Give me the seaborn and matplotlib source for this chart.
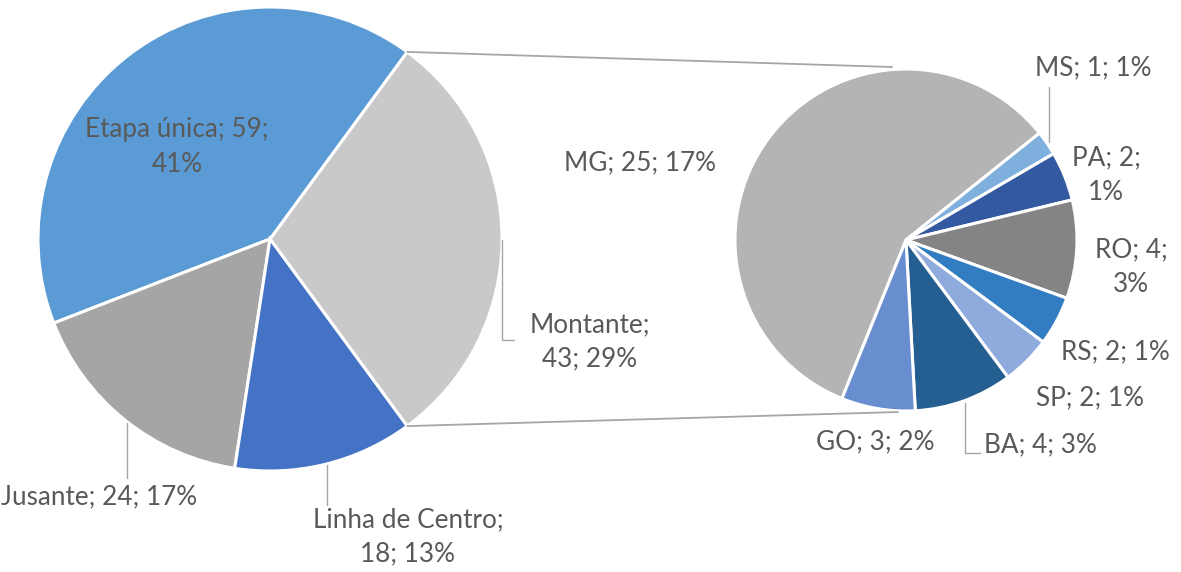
import matplotlib
matplotlib.use("Agg")
import matplotlib.pyplot as plt
import seaborn as sns
import numpy as np

# dados
etapas = ["Montante", "Etapa única", "Jusante", "Linha de Centro"]
etapa_vals = [43, 59, 24, 18]
etapa_pct = [29, 41, 17, 13]
estados = ["MG", "MS", "PA", "RO", "RS", "SP", "BA", "GO"]
estado_vals = [25, 1, 2, 4, 2, 2, 4, 3]
estado_pct = [17, 1, 1, 3, 1, 1, 3, 2]

cores_etapa = ["#C9C9C9", "#5B9BD5", "#A5A5A5", "#4472C4"]
cores_estado = ["#B4B4B4", "#7FB0DD", "#335AA1", "#848484",
                "#327DC2", "#8FAADC", "#255E91", "#698ED0"]

sns.set_theme(style="white")
plt.rcParams["font.family"] = ["Lato", "DejaVu Sans"]

W, H = 1181, 572
fig = plt.figure(figsize=(W / 100, H / 100), dpi=100)
ax = fig.add_axes([0, 0, 1, 1])

total = sum(etapa_vals)
sub_total = etapa_vals[0]

# pizza principal: Montante centrada a direita
c1, r1 = (270, H - 239), 232
ang_m = 360 * sub_total / total / 2
ax.pie(etapa_vals, colors=cores_etapa, startangle=-ang_m, counterclock=True,
       center=c1, radius=r1, frame=True,
       wedgeprops=dict(edgecolor="white", linewidth=2.2))

# pizza secundaria (detalhe de Montante)
c2, r2 = (906, H - 240), 171
ax.pie(estado_vals, colors=cores_estado, startangle=248, counterclock=False,
       center=c2, radius=r2, frame=True,
       wedgeprops=dict(edgecolor="white", linewidth=2.2))

# linhas de ligacao
a = np.deg2rad(ang_m)
ax.plot([c1[0] + r1 * np.cos(a), c2[0] - 14], [c1[1] + r1 * np.sin(a), c2[1] + r2 + 2],
        color="#A6A6A6", lw=1.3)
ax.plot([c1[0] + r1 * np.cos(a), c2[0] - 8], [c1[1] - r1 * np.sin(a), c2[1] - r2 - 1],
        color="#A6A6A6", lw=1.3)


def rotulo(nome, v, p, quebra):
    partes = [nome, str(v), f"{p}%"]
    if quebra is None:
        return "; ".join(partes)
    return "; ".join(partes[:quebra]) + ";\n" + "; ".join(partes[quebra:])


txt = dict(color="#595959", fontsize=18.8, ha="center", va="center", linespacing=1.45)

pos_etapa = [(590, 342), (177, 147), (99, 497), (408, 537)]
quebra_etapa = [1, 2, None, 1]
for n, v, pc, p, q in zip(etapas, etapa_vals, etapa_pct, pos_etapa, quebra_etapa):
    ax.text(p[0], H - p[1], rotulo(n, v, pc, q), **txt)

pos_estado = [(640, 163), (1093, 68), (1106, 175), (1131, 267),
              (1115, 352), (1090, 398), (1040, 445), (875, 442)]
quebra_estado = [None, None, 2, 2, None, None, None, None]
for n, v, pc, p, q in zip(estados, estado_vals, estado_pct, pos_estado, quebra_estado):
    ax.text(p[0], H - p[1], rotulo(n, v, pc, q), **txt)

# linhas guia dos rotulos
guia = dict(color="#A6A6A6", lw=1)
ax.plot([502, 502, 514], [H - 240, H - 340, H - 340], **guia)
ax.plot([127, 127], [H - 423, H - 478], **guia)
ax.plot([327, 327], [H - 465, H - 505], **guia)
ax.plot([1049, 1049], [H - 87, H - 142], **guia)
ax.plot([965, 965, 980], [H - 403, H - 453, H - 453], **guia)

ax.set_xlim(0, W)
ax.set_ylim(0, H)
ax.set_aspect("auto")
ax.axis("off")

fig.savefig("out.png", dpi=100, facecolor="white")
